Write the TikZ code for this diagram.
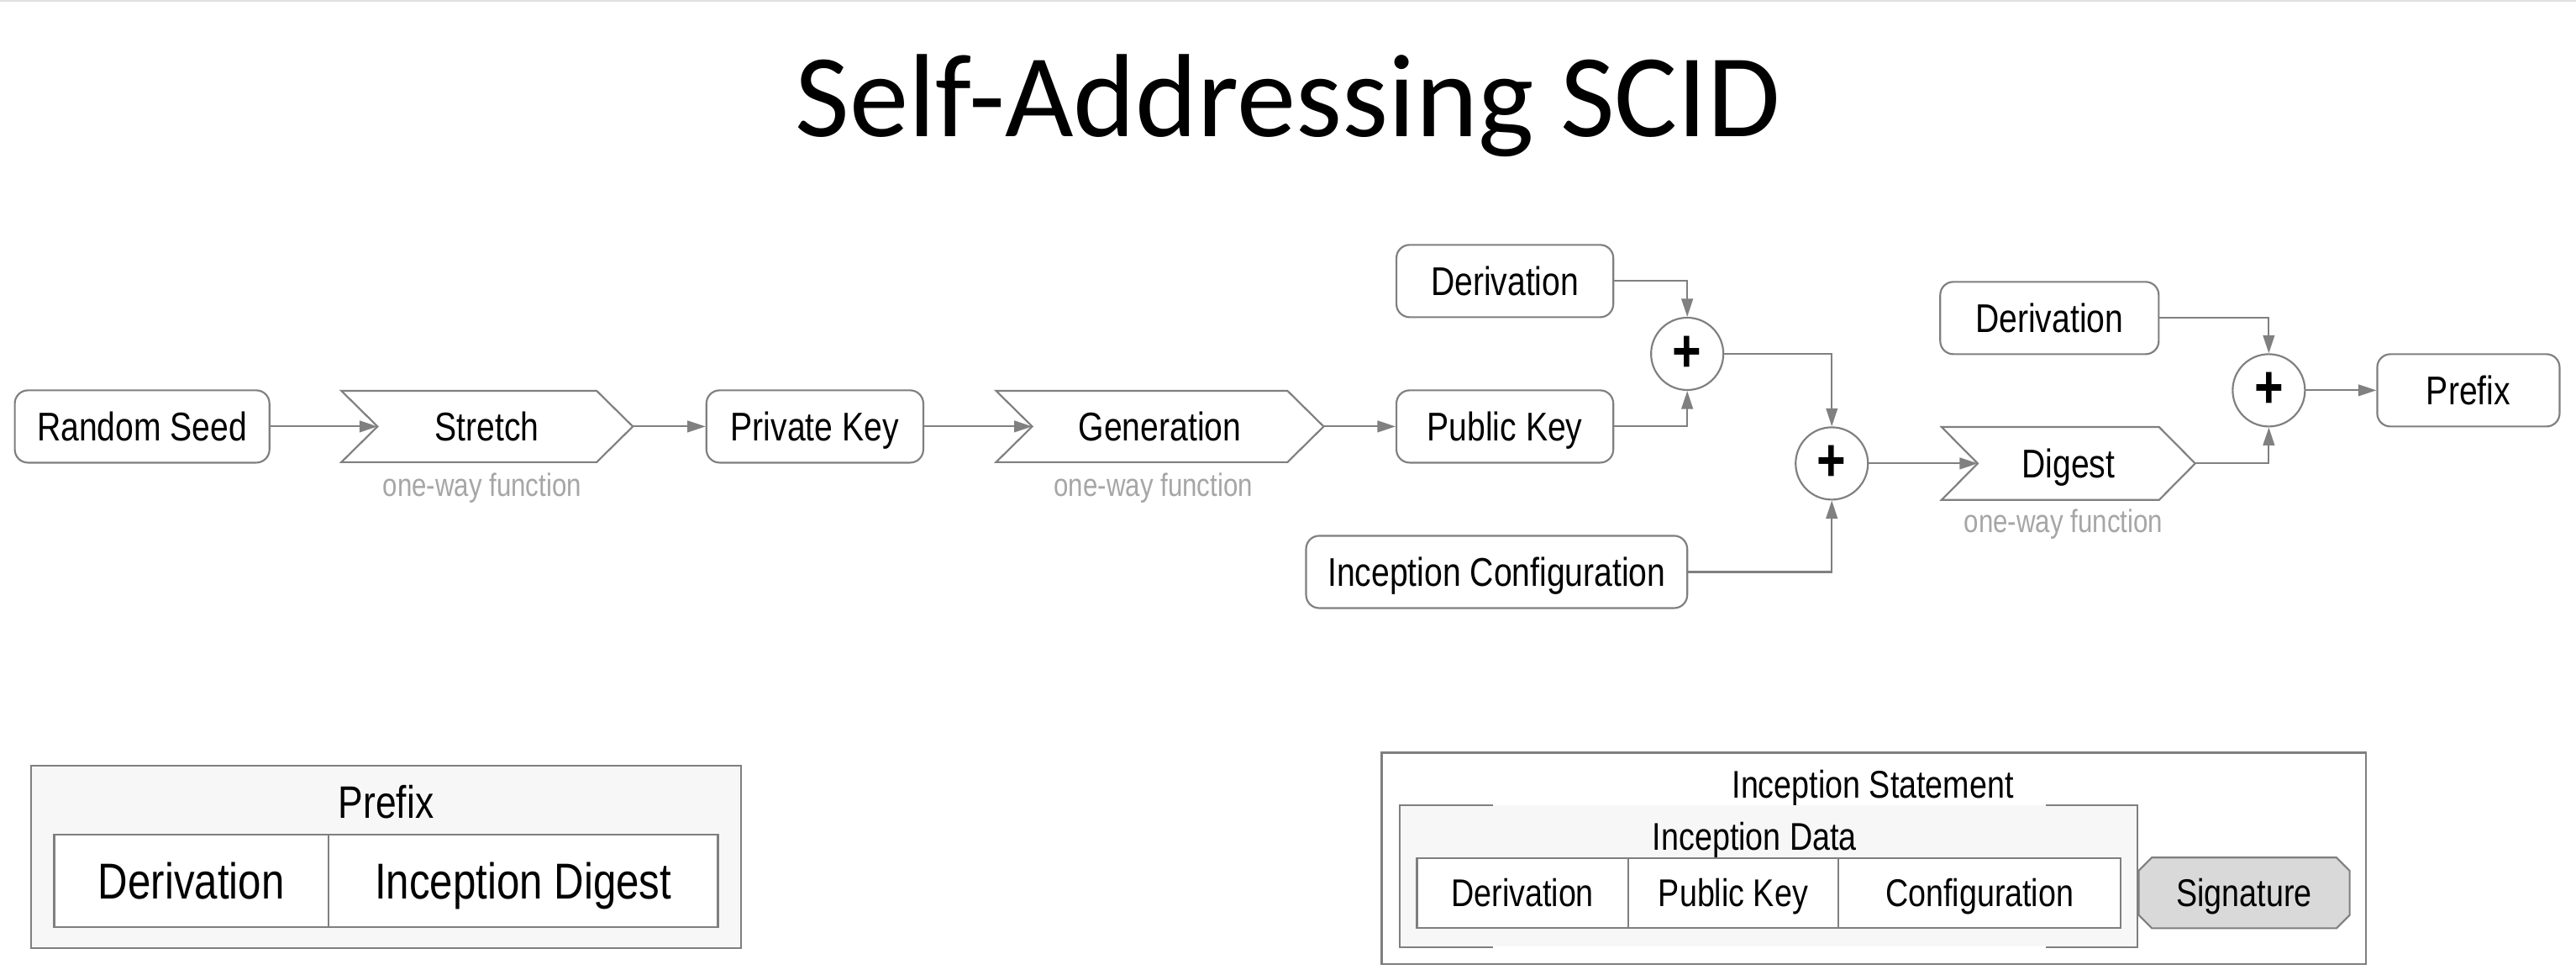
\documentclass[tikz,border=0pt]{standalone}
\usepackage{fontspec}
\setmainfont{Liberation Sans}[FakeStretch=0.82]
\newfontfamily\titlefont{Carlito}
\usetikzlibrary{arrows.meta,calc}
\definecolor{linegray}{HTML}{808080}
\definecolor{boxgray}{HTML}{7F7F7F}
\definecolor{panelfill}{HTML}{F7F7F7}
\definecolor{sigfill}{HTML}{D9D9D9}
\definecolor{notegray}{HTML}{A6A6A6}
\tikzset{
  fixt/.style={text height=#1, text depth=0pt},
  rbox/.style={draw=boxgray, line width=1.1pt, rounded corners=8pt, fill=white,
    minimum height=44pt, inner sep=0pt, font=\fontsize{24.4}{28}\selectfont, fixt=17.5pt},
  chevtext/.style={minimum height=43pt, inner sep=0pt, font=\fontsize{24.4}{28}\selectfont, fixt=17.5pt},
  chevline/.style={draw=boxgray, line width=1.1pt, line join=miter},
  plusnode/.style={circle, draw=boxgray, line width=1.1pt, fill=white, minimum size=44pt,
    inner sep=0pt, font=\bfseries\fontsize{37}{38}\selectfont},
  note/.style={text=notegray, font=\fontsize{19.5}{23}\selectfont, inner sep=0pt, fixt=14pt},
  conn/.style={draw=linegray, line width=1.1pt, -{Triangle[length=11pt,width=7pt]}},
  cell/.style={draw=boxgray, line width=1.1pt, fill=white, inner sep=0pt},
  lbl/.style={inner sep=0pt}
}
\begin{document}
\begin{tikzpicture}[x=1pt,y=-1pt]
\useasboundingbox (0,0) rectangle (1568,593);
\fill[white] (0,0) rectangle (1568,593);
\draw[color=black!12, line width=1pt] (0,0.5) -- (1568,0.5);

% title
\node[inner sep=0pt, anchor=base, font=\titlefont\fontsize{72}{82}\selectfont] (title) at (784,83) {Self-Addressing SCID};

% top flow
\node[rbox, minimum width=155pt] (seed) at (86.5,259.5) {Random Seed};
\node[chevtext, minimum width=177pt] (stretch) at (296.5,259.5) {Stretch};
\node[rbox, minimum width=132pt] (priv) at (496,259.5) {Private Key};
\node[chevtext, minimum width=199pt] (gen) at (706,259.5) {Generation};
\node[rbox, minimum width=132pt] (pub) at (916,259.5) {Public Key};
\node[rbox, minimum width=132pt] (der1) at (916,171) {Derivation};
\node[plusnode] (plus1) at (1027,215.3) {+};
\node[plusnode] (plus2) at (1115,282) {+};
\node[rbox, minimum width=232pt] (conf) at (911,348) {Inception Configuration};
\node[chevtext, minimum width=154pt, minimum height=44pt] (digest) at (1259,282) {Digest};
\node[rbox, minimum width=133pt] (der2) at (1247.5,193.5) {Derivation};
\node[plusnode] (plus3) at (1381,237.5) {+};
\node[rbox, minimum width=111pt] (prefix) at (1502.5,237.5) {Prefix};

\foreach \c in {stretch,gen,digest}{
  \draw[chevline] (\c.north west) -- ([xshift=-22pt]\c.north east) -- (\c.east)
    -- ([xshift=-22pt]\c.south east) -- (\c.south west) -- ([xshift=22pt]\c.west) -- cycle;
}

\node[note] (n1) at (293.5,295) {one-way function};
\node[note] (n2) at (702,295) {one-way function};
\node[note] (n3) at (1256,317) {one-way function};

% connectors
\draw[conn] (seed.east) -- ([xshift=22pt]stretch.west);
\draw[conn] (stretch.east) -- (priv.west);
\draw[conn] (priv.east) -- ([xshift=22pt]gen.west);
\draw[conn] (gen.east) -- (pub.west);
\draw[conn] (der1.east) -| (plus1.north);
\draw[conn] (pub.east) -| (plus1.south);
\draw[conn] (plus1.east) -| (plus2.north);
\draw[conn] (conf.east) -| (plus2.south);
\draw[conn] (plus2.east) -- ([xshift=22pt]digest.west);
\draw[conn] (der2.east) -| (plus3.north);
\draw[conn] (digest.east) -| (plus3.south);
\draw[conn] (plus3.east) -- (prefix.west);

% bottom left: prefix structure
\node[draw=boxgray, line width=1.1pt, fill=panelfill, minimum width=432pt, minimum height=111pt, inner sep=0pt] (pfxpanel) at (235,521.5) {};
\node[lbl, font=\fontsize{27.7}{32}\selectfont, fixt=19.8pt] (pfxlabel) at (235,488) {Prefix};
\node[cell, minimum width=167pt, minimum height=56pt, font=\fontsize{30.7}{36}\selectfont, fixt=22pt] (pfxder) at (116.5,536) {Derivation};
\node[cell, minimum width=237pt, minimum height=56pt, font=\fontsize{30.7}{36}\selectfont, fixt=22pt] (pfxdig) at (318.5,536) {Inception Digest};

% bottom right: inception statement
\node[draw=boxgray, line width=1.1pt, fill=white, minimum width=599pt, minimum height=128.6pt, inner sep=0pt] (stmt) at (1140.5,522.3) {};
\node[lbl, font=\fontsize{23.5}{27}\selectfont, fixt=16.8pt] (stmtlabel) at (1140,477) {Inception Statement};
\node[fill=panelfill, minimum width=449pt, minimum height=86pt, inner sep=0pt] (idata) at (1076.5,533) {};
\draw[draw=boxgray, line width=1.1pt] ([xshift=57pt]idata.north west) -- (idata.north west) -- (idata.south west) -- ([xshift=57pt]idata.south west);
\draw[draw=boxgray, line width=1.1pt] ([xshift=-56pt]idata.north east) -- (idata.north east) -- (idata.south east) -- ([xshift=-56pt]idata.south east);
\node[lbl, font=\fontsize{23.5}{27}\selectfont, fixt=16.8pt] (idlabel) at (1068,509) {Inception Data};
\node[cell, minimum width=128.5pt, minimum height=42.6pt, font=\fontsize{23.5}{27}\selectfont, fixt=16.8pt] (idder) at (926.75,543.3) {Derivation};
\node[cell, minimum width=128pt, minimum height=42.6pt, font=\fontsize{23.5}{27}\selectfont, fixt=16.8pt] (idpub) at (1055,543.3) {Public Key};
\node[cell, minimum width=172pt, minimum height=42.6pt, font=\fontsize{23.5}{27}\selectfont, fixt=16.8pt] (idconf) at (1205,543.3) {Configuration};
\node[minimum width=128pt, minimum height=42.6pt, inner sep=0pt] (sig) at (1366,543.3) {};
\draw[draw=boxgray, line width=1.1pt, fill=sigfill]
  ([xshift=8pt]sig.north west) -- ([xshift=-8pt]sig.north east) -- ([yshift=-8pt]sig.north east)
  -- ([yshift=8pt]sig.south east) -- ([xshift=-8pt]sig.south east) -- ([xshift=8pt]sig.south west)
  -- ([yshift=8pt]sig.south west) -- ([yshift=-8pt]sig.north west) -- cycle;
\node[lbl, font=\fontsize{23.5}{27}\selectfont, fixt=16.8pt] (siglabel) at (sig.center) {Signature};
\end{tikzpicture}
\end{document}
